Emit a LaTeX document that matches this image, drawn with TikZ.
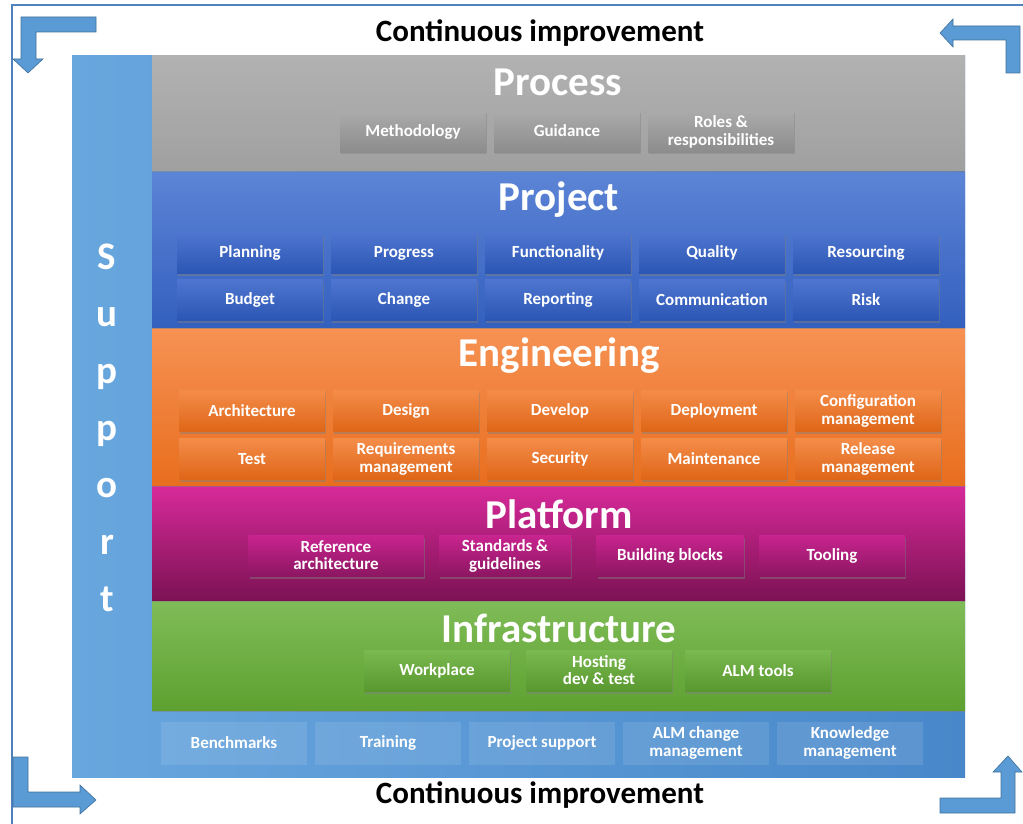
\documentclass[tikz,border=0pt]{standalone}
\usepackage{fontspec}
\setmainfont{Carlito}
\usetikzlibrary{positioning,shadows}

\definecolor{frameblue}{HTML}{4F81BD}
\definecolor{arrowblue}{HTML}{5B9BD5}
\definecolor{arrowline}{HTML}{41719C}
\newcommand{\itemstrut}{\rule[-2pt]{0pt}{14pt}}

\begin{document}
\begin{tikzpicture}[x=1pt, y=-1pt, node distance=154pt,
  band/.style={rectangle, anchor=north west, minimum width=813pt, inner sep=0pt, drop shadow={shadow xshift=0pt, shadow yshift=-2pt, opacity=0.5}},
  bandtitle/.style={text=white, inner sep=0pt, font=\fontsize{41}{41}\selectfont\bfseries},
  item/.style={rectangle, minimum width=146pt, minimum height=41pt, inner sep=1pt, text=white, align=center, font=\fontsize{17}{17.5}\selectfont\bfseries, execute at begin node=\itemstrut, drop shadow={shadow xshift=1pt, shadow yshift=-2pt, opacity=0.45}},
  supitem/.style={rectangle, minimum width=146pt, minimum height=43pt, inner sep=1pt, text=white, align=center, font=\fontsize{17}{17.5}\selectfont\bfseries, execute at begin node=\itemstrut, fill=white, fill opacity=0.1, text opacity=1},
  cornerarrow/.style={fill=arrowblue, draw=arrowline, line width=0.6pt},
  heading/.style={font=\fontsize{31}{31}\selectfont\bfseries}]

  \useasboundingbox (0,0) rectangle (1023,824);
  \draw[frameblue, line width=2pt] (12,824) -- (12,5) -- (1023,5);

  % corner arrows
  \draw[cornerarrow] (96,17) -- (21,17) -- (21,59) -- (13,59) -- (28,73) -- (43,59) -- (36,59) -- (36,32) -- (96,32) -- cycle;
  \draw[cornerarrow] (940,33) -- (953,19) -- (953,26) -- (1020,26) -- (1020,73) -- (1006,73) -- (1006,40) -- (953,40) -- (953,47) -- cycle;
  \draw[cornerarrow] (13,757) -- (28,757) -- (28,792) -- (80,792) -- (80,785) -- (96,800) -- (80,814) -- (80,807) -- (13,807) -- cycle;
  \draw[cornerarrow] (940,798) -- (1001,798) -- (1001,772) -- (993,772) -- (1008,756) -- (1022,772) -- (1015,772) -- (1015,813) -- (940,813) -- cycle;

  \node[heading] (citop) at (540,33) {Continuous improvement};
  \node[heading] (cibottom) at (540,795) {Continuous improvement};

  % support frame
  \node[rectangle, anchor=north west, minimum width=893pt, minimum height=722pt, inner sep=0pt, left color={rgb,255:red,104;green,166;blue,222}, right color={rgb,255:red,72;green,136;blue,202}] (support) at (72,55) {};
  \node[text=white, align=center, font=\fontsize{39}{57}\selectfont\bfseries] (supporttext) at (107,428) {S\\u\\p\\p\\o\\r\\t};

  % layers, drawn bottom up
  \node[band, minimum height=110pt, top color={rgb,255:red,128;green,188;blue,88}, bottom color={rgb,255:red,94;green,161;blue,48}] (infra) at (152,600) {};
  \node[band, minimum height=115pt, top color={rgb,255:red,216;green,42;blue,154}, middle color={rgb,255:red,192;green,34;blue,136}, bottom color={rgb,255:red,124;green,18;blue,84}] (platform) at (152,485) {};
  \node[band, minimum height=158pt, top color={rgb,255:red,246;green,146;blue,84}, bottom color={rgb,255:red,232;green,110;blue,30}] (engineering) at (152,327) {};
  \node[band, minimum height=155pt, top color={rgb,255:red,92;green,132;blue,214}, bottom color={rgb,255:red,52;green,96;blue,190}] (project) at (152,172) {};
  \node[band, minimum height=115pt, top color={rgb,255:red,178;green,178;blue,178}, bottom color={rgb,255:red,160;green,160;blue,160}] (process) at (152,55) {};

  \node[bandtitle] (processtitle) at (558,82) {Process};
  \node[bandtitle] (projecttitle) at (559,200) {Project};
  \node[bandtitle] (engtitle) at (559,356) {Engineering};
  \node[bandtitle] (platformtitle) at (559,514) {Platform};
  \node[bandtitle] (infratitle) at (559,628) {Infrastructure};

  % process
  \begin{scope}[item/.append style={top color={rgb,255:red,170;green,170;blue,170}, bottom color={rgb,255:red,140;green,140;blue,140}}]
  \node[item] (method) at (413,132) {Methodology};
  \node[item, right of=method] (guidance) {Guidance};
  \node[item, right of=guidance] (roles) {Roles \&\\responsibilities};
  \end{scope}

  % project
  \begin{scope}[item/.append style={top color={rgb,255:red,78;green,118;blue,208}, bottom color={rgb,255:red,44;green,86;blue,180}}]
  \node[item] (planning) at (250,253) {Planning};
  \node[item, right of=planning] (progress) {Progress};
  \node[item, right of=progress] (function) {Functionality};
  \node[item, right of=function] (quality) {Quality};
  \node[item, right of=quality] (resourcing) {Resourcing};
  \node[item] (budget) at (250,300) {Budget};
  \node[item, right of=budget] (change) {Change};
  \node[item, right of=change] (reporting) {Reporting};
  \node[item, right of=reporting] (communication) {Communication};
  \node[item, right of=communication] (risk) {Risk};
  \end{scope}

  % engineering
  \begin{scope}[item/.append style={top color={rgb,255:red,244;green,140;blue,72}, bottom color={rgb,255:red,222;green,102;blue,24}}]
  \node[item] (architecture) at (252,411) {Architecture};
  \node[item, right of=architecture] (design) {Design};
  \node[item, right of=design] (develop) {Develop};
  \node[item, right of=develop] (deployment) {Deployment};
  \node[item, right of=deployment] (config) {Configuration\\management};
  \node[item] (test) at (252,459) {Test};
  \node[item, right of=test] (requirements) {Requirements\\management};
  \node[item, right of=requirements] (security) {Security};
  \node[item, right of=security] (maintenance) {Maintenance};
  \node[item, right of=maintenance] (release) {Release\\management};
  \end{scope}

  % platform
  \begin{scope}[item/.append style={top color={rgb,255:red,200;green,36;blue,142}, bottom color={rgb,255:red,140;green,22;blue,98}}]
  \node[item, minimum width=175pt] (refarch) at (336,556) {Reference\\architecture};
  \node[item, minimum width=132pt] (standards) at (505,556) {Standards \&\\guidelines};
  \node[item, minimum width=147pt] (blocks) at (670,556) {Building blocks};
  \node[item] (tooling) at (832,556) {Tooling};
  \end{scope}

  % infrastructure
  \begin{scope}[item/.append style={top color={rgb,255:red,122;green,184;blue,80}, bottom color={rgb,255:red,88;green,152;blue,46}}]
  \node[item] (workplace) at (437,671) {Workplace};
  \node[item, right of=workplace, node distance=162pt] (hosting) {Hosting\\dev \& test};
  \node[item, right of=hosting, node distance=159pt] (almtools) {ALM tools};
  \end{scope}

  % support row
  \node[supitem] (benchmarks) at (234,743) {Benchmarks};
  \node[supitem, right of=benchmarks] (training) {Training};
  \node[supitem, right of=training] (projsupport) {Project support};
  \node[supitem, right of=projsupport] (almchange) {ALM change\\management};
  \node[supitem, right of=almchange] (knowledge) {Knowledge\\management};
\end{tikzpicture}
\end{document}
